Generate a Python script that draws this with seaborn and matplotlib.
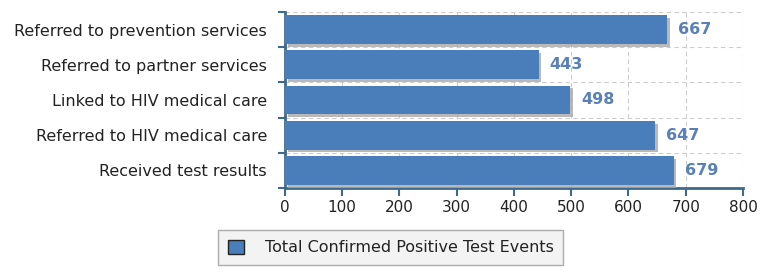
import pandas as pd
import numpy as np
import matplotlib.pyplot as plt
import matplotlib.patheffects as pe
from matplotlib.patches import Patch
import seaborn as sns

sns.set_theme(style="white")
plt.rcParams["font.family"] = ["DejaVu Sans"]

# data
categories = [
    "Referred to prevention services",
    "Referred to partner services",
    "Linked to HIV medical care",
    "Referred to HIV medical care",
    "Received test results",
]
values = [667, 443, 498, 647, 679]
series_name = "Total Confirmed Positive Test Events"
x_ticks = [0, 100, 200, 300, 400, 500, 600, 700, 800]

df = pd.DataFrame({"Category": categories, "Value": values})

bar_color = "#4a7ebb"
axis_color = "#3d6a8a"

fig = plt.figure(figsize=(7.75, 2.72), dpi=100)
ax = fig.add_axes([0.3677, 0.309, 0.5910, 0.647])
ax.set_axisbelow(True)

sns.barplot(data=df, x="Value", y="Category", orient="h", color=bar_color,
            saturation=1, width=0.82, ax=ax, zorder=3)
for p in ax.patches:
    p.set_edgecolor("none")
    p.set_path_effects([pe.SimplePatchShadow(offset=(2, -2), shadow_rgbFace="#a8a8a8", alpha=0.8), pe.Normal()])

# value labels just right of each bar
for i, v in enumerate(values):
    ax.text(v + 19, i, str(v), va="center", ha="left", fontsize=11.5,
            fontweight="bold", color="#5a80b8", zorder=4)

ax.set_xlim(0, 800)
ax.set_ylim(len(categories) - 0.5, -0.5)
ax.set_xticks(x_ticks)
ax.set_xticklabels([str(t) for t in x_ticks], fontsize=11, color="#222222")
ax.set_yticks(range(len(categories)))
ax.set_yticklabels(categories, fontsize=11.5, color="#222222")
ax.set_yticks(np.arange(-0.5, len(categories), 1), minor=True)
ax.set_xlabel("")
ax.set_ylabel("")

ax.tick_params(axis="y", which="major", left=False, length=0, pad=13)
ax.tick_params(axis="y", which="minor", left=True, length=5, width=1.5, color=axis_color, direction="out")
ax.tick_params(axis="x", which="major", bottom=True, length=6, width=1.5, color=axis_color, direction="out", pad=3)

ax.grid(False)
ax.grid(True, axis="x", which="major", linestyle=(0, (4, 3)), color="#cccccc", linewidth=0.8)
ax.grid(True, axis="y", which="minor", linestyle=(0, (4, 3)), color="#cccccc", linewidth=0.8)

for side in ["top", "right"]:
    ax.spines[side].set_visible(False)
for side in ["left", "bottom"]:
    ax.spines[side].set_color(axis_color)
    ax.spines[side].set_linewidth(2)
ax.set_facecolor("white")

handle = Patch(facecolor=bar_color, edgecolor="#222222", linewidth=1)
leg = fig.legend([handle], [series_name], loc="center", bbox_to_anchor=(0.504, 0.090),
                 fontsize=11.5, frameon=True, fancybox=False, handlelength=1.0,
                 handleheight=1.0, borderpad=0.6, borderaxespad=0, handletextpad=1.3)
leg.get_frame().set_facecolor("#f0f0f0")
leg.get_frame().set_edgecolor("#999999")
leg.get_frame().set_linewidth(1)
for t in leg.get_texts():
    t.set_color("#222222")

fig.savefig("out.png", dpi=100)
